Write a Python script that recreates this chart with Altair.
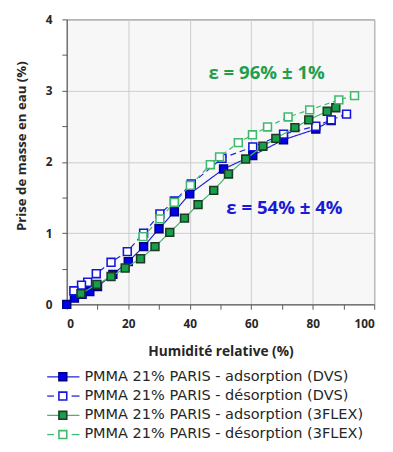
import altair as alt
import pandas as pd

# ---- data ----
dvs_ads_x = [0, 2.5, 5, 7.5, 10, 15, 20, 25, 30, 35, 40, 51, 60.5, 70.5, 81, 86]
dvs_ads_y = [0, 0.09, 0.14, 0.18, 0.25, 0.42, 0.60, 0.81, 1.06, 1.30, 1.55, 1.90, 2.09, 2.31, 2.46, 2.58]

dvs_des_x = [91, 86, 81, 70.5, 60.5, 50.5, 40.5, 35, 30.3, 25, 19.7, 14.4, 9.6, 6.8, 4.8, 2.3]
dvs_des_y = [2.67, 2.59, 2.50, 2.39, 2.21, 2.05, 1.69, 1.45, 1.27, 1.00, 0.74, 0.59, 0.43, 0.31, 0.27, 0.19]

flex_ads_x = [4.6, 9.8, 14.4, 19, 24, 28.7, 33.5, 38.3, 42.7, 47.8, 52.6, 58.2, 63.8, 68, 74.2, 78.7, 84.7, 87.5]
flex_ads_y = [0.15, 0.28, 0.39, 0.51, 0.64, 0.81, 1.01, 1.21, 1.40, 1.60, 1.83, 2.04, 2.22, 2.33, 2.48, 2.59, 2.71, 2.76]

flex_des_x = [93.6, 88.5, 79, 72, 65.3, 60.4, 55.8, 49.7, 46.7, 40.2, 35, 30.3, 24.8]
flex_des_y = [2.93, 2.87, 2.73, 2.63, 2.49, 2.38, 2.27, 2.07, 1.96, 1.67, 1.43, 1.20, 0.95]

series_labels = [
    "PMMA 21% PARIS - adsorption (DVS)",
    "PMMA 21% PARIS - désorption (DVS)",
    "PMMA 21% PARIS - adsorption (3FLEX)",
    "PMMA 21% PARIS - désorption (3FLEX)",
]

annot_text = ["ε = 96% ± 1%", "ε = 54% ± 4%"]
annot_x = [65, 70.8]
annot_y = [3.24, 1.35]

x_ticks = [0, 10, 20, 30, 40, 50, 60, 70, 80, 90, 100]
y_ticks = [0, 0.5, 1, 1.5, 2, 2.5, 3, 3.5, 4]

# ---- styles ----
BLUE_LINE = "#2323d8"
BLUE_FILL = "#0000f0"
BLUE_EDGE = "#000080"
GREEN_LINE = "#3dba6e"
GREEN_FILL = "#16a04c"
GREEN_EDGE = "#1f3a24"
GREEN_TEXT = "#1f9e4e"
FONT = "Open Sans"
LEG_FONT = "DejaVu Sans"

styles = [
    dict(line=BLUE_LINE, dash=[1, 0], fill=BLUE_FILL, edge=BLUE_EDGE),
    dict(line=BLUE_LINE, dash=[6, 4], fill="white", edge="#1515e0"),
    dict(line=GREEN_LINE, dash=[1, 0], fill=GREEN_FILL, edge=GREEN_EDGE),
    dict(line=GREEN_LINE, dash=[5, 4], fill="white", edge=GREEN_LINE),
]
all_x = [dvs_ads_x, dvs_des_x, flex_ads_x, flex_des_x]
all_y = [dvs_ads_y, dvs_des_y, flex_ads_y, flex_des_y]

xscale = alt.Scale(domain=[0, 100], nice=False, zero=False)
yscale = alt.Scale(domain=[0, 4], nice=False, zero=False)

x_axis = alt.Axis(
    title="Humidité relative (%)", values=x_ticks,
    labelExpr="datum.value % 20 == 0 ? format(datum.value, 'd') : ''",
    gridOpacity={"condition": {"test": "datum.value % 20 != 0", "value": 0}, "value": 1},
    tickSize=5, labelPadding=10, titlePadding=15, titleFontSize=14,
)
y_axis = alt.Axis(
    title="Prise de masse en eau (%)", values=y_ticks,
    labelExpr="datum.value % 1 == 0 ? format(datum.value, 'd') : ''",
    gridOpacity={"condition": {"test": "datum.value % 1 != 0", "value": 0}, "value": 1},
    tickSize=5, labelPadding=10, titlePadding=17, titleY=129, titleFontSize=13.5,
)

def xy():
    return dict(
        x=alt.X("x:Q", scale=xscale, axis=x_axis),
        y=alt.Y("y:Q", scale=yscale, axis=y_axis),
    )

main_layers = []
for i, (xs, ys, st) in enumerate(zip(all_x, all_y, styles)):
    df = pd.DataFrame({"x": xs, "y": ys, "i": list(range(len(xs)))})
    line = alt.Chart(df).mark_line(
        color=st["line"], strokeWidth=1.2, strokeDash=st["dash"]
    ).encode(order="i:Q", **xy())
    pts = alt.Chart(df).mark_square(
        size=64, fill=st["fill"], stroke=st["edge"], strokeWidth=1.6, opacity=1, fillOpacity=1
    ).encode(**xy())
    main_layers += [line, pts]

annot_df = pd.DataFrame({"x": annot_x, "y": annot_y, "t": annot_text, "c": [GREEN_TEXT, "#1a1ad8"]})
annot = alt.Chart(annot_df).mark_text(
    font=FONT, fontSize=19, fontWeight="bold", align="center", baseline="middle"
).encode(
    text="t:N",
    color=alt.Color("c:N", scale=None),
    **xy(),
)
main_layers.append(annot)
main = alt.layer(*main_layers)

# ---- legend, drawn with its own pixel scales below the plot ----
seg_rows = []
for k, st in enumerate(styles):
    if k % 2 == 0:
        seg_rows.append(dict(k=k, a=-20, b=13))
    else:
        seg_rows.append(dict(k=k, a=-20, b=-13))
        seg_rows.append(dict(k=k, a=5, b=13))
seg_df = pd.DataFrame(seg_rows)
leg_df = pd.DataFrame({"k": [0, 1, 2, 3], "label": series_labels, "mx": [-4] * 4, "tx": [18] * 4})

lx = alt.Scale(domain=[-100, 100], range=[-100, 100], nice=False, zero=False)
ly = alt.Scale(domain=[0, 3], range=[365, 424], nice=False, zero=False)
line_cols = alt.Scale(domain=[0, 1, 2, 3], range=[s["line"] for s in styles])
fill_cols = alt.Scale(domain=[0, 1, 2, 3], range=[s["fill"] for s in styles])
edge_cols = alt.Scale(domain=[0, 1, 2, 3], range=[s["edge"] for s in styles])

leg_lines = alt.Chart(seg_df).mark_rule(strokeWidth=1.3).encode(
    x=alt.X("a:Q", scale=lx, axis=None), x2="b:Q",
    y=alt.Y("k:Q", scale=ly, axis=None),
    color=alt.Color("k:O", scale=line_cols, legend=None),
)
leg_pts = alt.Chart(leg_df).mark_square(size=64, strokeWidth=1.6, opacity=1).encode(
    x=alt.X("mx:Q", scale=lx, axis=None),
    y=alt.Y("k:Q", scale=ly, axis=None),
    fill=alt.Fill("k:O", scale=fill_cols, legend=None),
    stroke=alt.Stroke("k:O", scale=edge_cols, legend=None),
)
leg_txt = alt.Chart(leg_df).mark_text(
    align="left", baseline="middle", font=LEG_FONT, fontSize=14.8, color="#262626"
).encode(
    x=alt.X("tx:Q", scale=lx, axis=None),
    y=alt.Y("k:Q", scale=ly, axis=None),
    text="label:N",
)
legend = alt.layer(leg_lines, leg_pts, leg_txt).resolve_scale(color="independent")

chart = alt.layer(main, legend).resolve_scale(
    x="independent", y="independent", color="independent", fill="independent", stroke="independent"
).properties(
    width=314, height=291,
    autosize=alt.AutoSizeParams(type="none"),
    padding={"left": 60, "top": 7, "right": 11, "bottom": 138},
    background="white",
).configure_view(
    fill="#f7f7f7", stroke="#595959", strokeWidth=1
).configure_axis(
    gridColor="#cccccc", gridWidth=1, domainColor="#595959", tickColor="#595959",
    labelFont=FONT, labelFontSize=12, labelFontWeight="bold", labelColor="#262626",
    titleFont=FONT, titleFontWeight="bold", titleColor="#262626",
)

chart.save("out.html", embed_options={"renderer": "svg", "actions": False})
